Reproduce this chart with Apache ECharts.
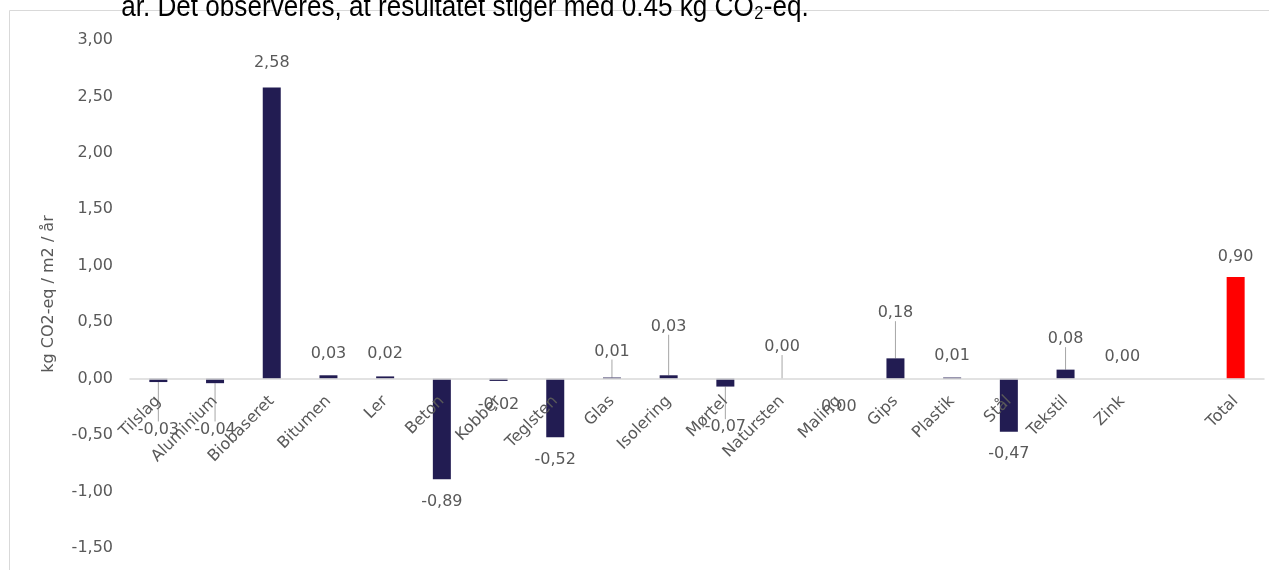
<!DOCTYPE html>
<html>
<head>
<meta charset="utf-8">
<script src="https://cdn.jsdelivr.net/npm/echarts@6/dist/echarts.min.js"></script>
<style>
  html, body { margin: 0; padding: 0; background: #fff; }
  #chart { width: 1269px; height: 570px; }
</style>
</head>
<body>
<div id="chart"></div>
<script>
// ---- data ----
const categories = ['Tilslag','Aluminium','Biobaseret','Bitumen','Ler','Beton','Kobber','Teglsten','Glas','Isolering','Mørtel','Natursten','Maling','Gips','Plastik','Stål','Tekstil','Zink','','Total'];
const values = [-0.03,-0.04,2.58,0.03,0.02,-0.89,-0.02,-0.52,0.01,0.03,-0.07,0.00,0.00,0.18,0.01,-0.47,0.08,0.00,null,0.90];
const yMin = -1.5, yMax = 3.0, yStep = 0.5;
const yAxisTitle = 'kg CO2-eq / m2 / år';
const headerText = 'år. Det observeres, at resultatet stiger med 0.45 kg CO\u2082-eq.';
const totalName = 'Total';

// ---- label placement (in value units) and which labels have leader lines ----
const labelAt = [-0.45,-0.45,2.80,0.22,0.22,-1.09,-0.23,-0.72,0.24,0.46,-0.43,0.28,-0.25,0.58,0.20,-0.67,0.35,0.19,null,1.08];
const leader = [1,1,0,0,0,0,0,0,1,1,1,1,0,1,0,0,1,0,0,0];

const FONT = 'DejaVu Sans';
const FS = 16;
const TXT = '#595959';
const fmt = v => (v === null || v === undefined || v === '-') ? '' : Number(v).toFixed(2).replace('.', ',');

const chart = echarts.init(document.getElementById('chart'), null, { renderer: 'canvas' });

const seriesData = values.map((v, i) => ({
  value: v === null ? '-' : v,
  itemStyle: { color: categories[i] === totalName ? '#FF0000' : '#221C52' },
  labelLine: { show: !!leader[i], lineStyle: { color: '#A6A6A6', width: 1 } }
}));

chart.setOption({
  animation: false,
  textStyle: { fontFamily: FONT },
  graphic: [
    {
      type: 'rect', silent: true, z: -10,
      shape: { x: 9.5, y: 10.5, width: 1300, height: 600 },
      style: { fill: 'none', stroke: '#D9D9D9', lineWidth: 1 }
    },
    {
      type: 'text', silent: true, z: 10,
      x: 465, y: 23, scaleX: 0.87, originX: 0,
      style: {
        text: headerText, fill: '#000', align: 'center', verticalAlign: 'bottom',
        font: '30px "Liberation Sans"'
      }
    }
  ],
  grid: { left: 130, right: 5, top: 40, bottom: 22, containLabel: false, outerBoundsMode: 'none' },
  xAxis: {
    type: 'category',
    data: categories,
    position: 'bottom',
    z: 5,
    axisLine: { onZero: false, lineStyle: { color: '#D9D9D9', width: 1.5 } },
    axisTick: { show: false },
    axisLabel: { interval: 0, rotate: 45, margin: 20, color: TXT, fontSize: FS, fontFamily: FONT }
  },
  yAxis: {
    type: 'value',
    min: yMin, max: yMax, interval: yStep,
    name: yAxisTitle,
    nameLocation: 'middle',
    nameGap: 73,
    nameTextStyle: { color: TXT, fontSize: FS, fontFamily: FONT },
    axisLine: { show: false },
    axisTick: { show: false },
    splitLine: { show: false },
    axisLabel: { color: TXT, fontSize: FS, fontFamily: FONT, margin: 17, formatter: v => fmt(v) }
  },
  series: [{
    type: 'bar',
    barWidth: 18,
    z: 2,
    data: seriesData,
    label: {
      show: true,
      position: 'top',
      color: TXT, fontSize: FS, fontFamily: FONT,
      formatter: p => fmt(p.value)
    },
    labelLine: { show: false, lineStyle: { color: '#A6A6A6', width: 1 } },
    labelLayout: function (params) {
      const i = params.dataIndex;
      if (labelAt[i] === null) return {};
      const y = chart.convertToPixel({ yAxisIndex: 0 }, labelAt[i]);
      return {
        x: params.rect.x + params.rect.width / 2,
        y: y,
        align: 'center',
        verticalAlign: 'middle'
      };
    }
  }]
});

// move the category axis (line + labels) up to the zero value, using the library's own scale
const zeroY = chart.convertToPixel({ yAxisIndex: 0 }, 0);
const minY = chart.convertToPixel({ yAxisIndex: 0 }, yMin);
chart.setOption({ xAxis: { offset: -(minY - zeroY) } });
</script>
</body>
</html>
